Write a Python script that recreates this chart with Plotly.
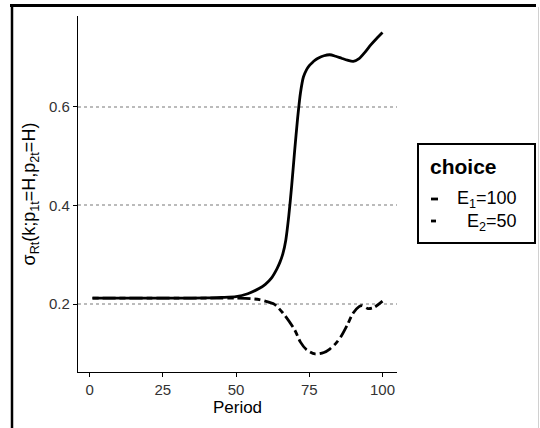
import plotly.graph_objects as go

# ---- data ----
period_e1 = [1, 10, 20, 30, 40, 45, 50, 54, 58, 60, 62, 64, 65, 66, 67, 68, 69, 70, 71, 72, 73, 74, 75, 76, 77, 78,
             80, 82, 84, 86, 88, 90, 92, 94, 96, 98, 100]
sigma_e1 = [0.212, 0.212, 0.212, 0.212, 0.2125, 0.2135, 0.215, 0.221, 0.232, 0.240, 0.252, 0.272, 0.285, 0.302,
            0.330, 0.378, 0.440, 0.510, 0.575, 0.628, 0.660, 0.674, 0.683, 0.689, 0.694, 0.698,
            0.703, 0.705, 0.702, 0.698, 0.694, 0.6915, 0.697, 0.710, 0.725, 0.738, 0.750]

period_e2 = [1, 10, 20, 30, 40, 45, 50, 55, 58, 60, 63, 66, 70, 72, 74, 77, 80, 82, 84, 86, 88, 90, 92, 93, 95, 97, 100]
sigma_e2 = [0.212, 0.212, 0.212, 0.212, 0.212, 0.212, 0.212, 0.211, 0.209, 0.206, 0.200, 0.182, 0.148, 0.123,
            0.108, 0.099, 0.102, 0.109, 0.120, 0.136, 0.158, 0.182, 0.195, 0.197, 0.191, 0.193, 0.206]

series_names = ["E<sub>1</sub>=100", "E<sub>2</sub>=50"]
x_ticks = [0, 25, 50, 75, 100]
y_ticks = [0.2, 0.4, 0.6]
y_tick_labels = ["0.2", "0.4", "0.6"]

FONT = "Liberation Sans, Arial, sans-serif"
LW = 2.8
DASH2 = "6px,4px,13px,4px"

fig = go.Figure()
fig.add_trace(go.Scatter(x=period_e1, y=sigma_e1, mode="lines", name=series_names[0],
                         line=dict(color="black", width=LW, shape="spline", smoothing=0.7),
                         showlegend=False))
fig.add_trace(go.Scatter(x=period_e2, y=sigma_e2, mode="lines", name=series_names[1],
                         line=dict(color="black", width=LW, dash=DASH2, shape="spline", smoothing=0.8),
                         showlegend=False))

# plot area: x 78..397 px, y 16..372 px
L, R, T, B = 78, 143, 16, 56
PW, PH = 540 - L - R, 428 - T - B


def px(x):
    return (x - L) / PW


def py(y):
    return (428 - B - y) / PH


shapes = []
# outer frame (partially visible): right side light grey, top and left black
shapes.append(dict(type="line", xref="paper", yref="paper", x0=px(538.5), x1=px(538.5), y0=py(440), y1=py(7),
                   line=dict(color="#d0d0d0", width=1), layer="above"))
shapes.append(dict(type="line", xref="paper", yref="paper", x0=px(10.5), x1=px(536), y0=py(5.5), y1=py(5.5),
                   line=dict(color="black", width=2.5), layer="above"))
shapes.append(dict(type="line", xref="paper", yref="paper", x0=px(12), x1=px(12), y0=py(440), y1=py(4.5),
                   line=dict(color="black", width=2.5), layer="above"))
# legend box
shapes.append(dict(type="rect", xref="paper", yref="paper", x0=px(418), x1=px(535), y0=py(243), y1=py(144),
                   line=dict(color="black", width=2), fillcolor="white"))
# legend keys
shapes.append(dict(type="line", xref="paper", yref="paper", x0=px(431), x1=px(438), y0=py(199), y1=py(199),
                   line=dict(color="black", width=LW)))
shapes.append(dict(type="line", xref="paper", yref="paper", x0=px(431), x1=px(436), y0=py(221), y1=py(221),
                   line=dict(color="black", width=LW)))

annotations = [
    dict(text="<b>choice</b>", xref="paper", yref="paper", x=px(428), y=py(166), xanchor="left", yanchor="middle",
         showarrow=False, font=dict(family=FONT, size=21, color="black")),
    dict(text=series_names[0], xref="paper", yref="paper", x=px(519), y=py(199), xanchor="right", yanchor="middle",
         showarrow=False, font=dict(family=FONT, size=18, color="black")),
    dict(text=series_names[1], xref="paper", yref="paper", x=px(519), y=py(222), xanchor="right", yanchor="middle",
         showarrow=False, font=dict(family=FONT, size=18, color="black")),
]

fig.update_layout(
    width=540, height=428,
    margin=dict(l=L, r=R, t=T, b=B, pad=0),
    paper_bgcolor="white", plot_bgcolor="white",
    font=dict(family=FONT, color="black"),
    shapes=shapes, annotations=annotations,
    showlegend=False,
    xaxis=dict(range=[-3.95, 104.95], tickvals=x_ticks, ticks="outside", ticklen=4, tickwidth=1.2,
               tickcolor="black", showline=True, linecolor="black", linewidth=1.2, showgrid=False,
               zeroline=False, tickfont=dict(size=15, color="#333"), ticklabelstandoff=0,
               title=dict(text="Period", font=dict(size=17), standoff=0)),
    yaxis=dict(range=[0.0625, 0.7835], tickvals=y_ticks, ticktext=y_tick_labels, ticks="outside", ticklen=4,
               tickwidth=1.2, tickcolor="black", showline=True, linecolor="black", linewidth=1.2,
               showgrid=True, gridcolor="#bbbbbb", griddash="dot", gridwidth=1.5,
               zeroline=False, tickfont=dict(size=15, color="#333"),
               title=dict(text="σ<sub>Rt</sub>(k;p<sub>1t</sub>=H,p<sub>2t</sub>=H)", font=dict(size=18),
                          standoff=8)),
)

post = (
    "document.body.style.margin='0px';"
    "var fr=document.createElement('div');"
    "fr.style.cssText='position:absolute;left:10px;top:4px;width:526px;height:3px;background:#000;z-index:10;pointer-events:none';"
    "document.body.appendChild(fr);"
)
fig.write_html("out.html", config={"displayModeBar": False}, post_script=post)
